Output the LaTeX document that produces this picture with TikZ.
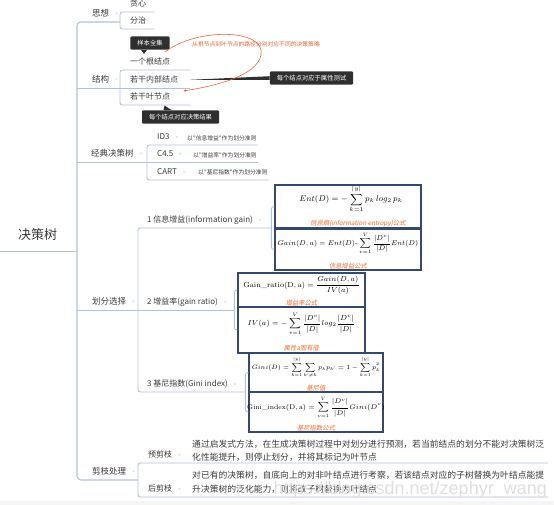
\RequirePackage{fix-cm}
\documentclass[tikz,border=0pt]{standalone}
\usepackage{amsmath}
\usepackage{fontspec}
\newfontfamily\cjk{Noto Sans CJK SC}
\newfontfamily\cjkslant{Noto Sans CJK SC}[FakeSlant=0.18]
\newfontfamily\wmfont{Liberation Sans}
\usetikzlibrary{arrows.meta,positioning}
\definecolor{linecol}{HTML}{B3C2D6}
\definecolor{boxcol}{HTML}{34496E}
\definecolor{capcol}{HTML}{F26A2C}
\definecolor{callbg}{HTML}{2F2F2F}
\definecolor{notecol}{HTML}{E2683E}
\definecolor{inkcol}{HTML}{3A3A3A}

\begin{document}
\begin{tikzpicture}[x=1pt,y=-1pt,>=Latex,
  lvlone/.style={font=\cjk\fontsize{8.5}{10}\selectfont,text=inkcol,anchor=south west,inner xsep=2pt,inner ysep=0pt,text depth=5.5pt},
  lvltwo/.style={font=\cjk\fontsize{8}{10}\selectfont,text=inkcol,anchor=south west,inner xsep=2pt,inner ysep=0pt,text depth=5pt},
  note/.style={font=\cjk\fontsize{5.8}{7}\selectfont,text=inkcol,anchor=west,inner sep=1pt},
  uline/.style={draw=linecol,line width=0.9pt},
  brace/.style={uline,rounded corners=2.5pt},
  knob/.style={circle,fill=linecol!45,inner sep=0pt,minimum size=2.6pt},
  tip/.style={fill=callbg,text=white,rounded corners=1.2pt,font=\cjk\fontsize{6.3}{7}\selectfont,inner xsep=7pt,inner ysep=3.8pt},
  fbox/.style={draw=boxcol,line width=1.2pt,fill=white,inner sep=0pt},
  fml/.style={font=\fontsize{#1}{#1}\selectfont,inner sep=0pt},
  capt/.style={text=capcol,font=\cjkslant\fontsize{6.3}{7}\selectfont,inner sep=0pt,anchor=south},
  desc/.style={font=\cjk\fontsize{8.8}{13.5}\selectfont,text=inkcol,align=left,inner sep=0pt,anchor=west}
]
\useasboundingbox (0,0) rectangle (554,505);
\fill[black!4] (0,501) rectangle (554,505);
% root and main branches
\node[lvlone,font=\cjk\fontsize{13}{15}\selectfont,text depth=11pt] (root) at (16,251) {决策树};
\coordinate (edge) at (0,251);
\coordinate (trunk) at (77,250);
\node[lvlone] (sx) at (90,22) {思想};
\node[lvlone] (jg) at (90,88) {结构};
\node[lvlone] (jd) at (89,162) {经典决策树};
\node[lvlone] (hf) at (90,310) {划分选择};
\node[lvlone] (jz) at (90,480) {剪枝处理};
\coordinate (sxb) at (120,20);
\coordinate (jgb) at (120,88);
\coordinate (jdb) at (147,162);
\coordinate (hfb) at (138,310);
\coordinate (jzb) at (138,480);
\coordinate (rgt) at (548,480);
% second level
\node[lvltwo,text width=22pt] (tx) at (128,12) {贪心};
\node[lvltwo,text width=22pt] (fz) at (128,29) {分治};
\node[lvltwo,text width=58pt] (gz) at (128,70) {一个根结点};
\node[lvltwo,text width=58pt] (nb) at (128,88) {若干内部结点};
\node[lvltwo,text width=58pt] (yz) at (128,105) {若干叶节点};
\node[lvltwo] (id3) at (155,145) {ID3};
\node[lvltwo] (c45) at (155,162) {C4.5};
\node[lvltwo] (cart) at (155,180) {CART};
\node[note] (id3n) at (186,138) {以"信息增益"作为划分准则};
\node[note] (c45n) at (192,155) {以"增益率"作为划分准则};
\node[note] (cartn) at (197,172.5) {以"基尼指数"作为划分准则};
\node[lvltwo] (hone) at (145,228) {1 信息增益(information gain)};
\node[lvltwo] (htwo) at (145,310) {2 增益率(gain ratio)};
\node[lvltwo] (hthree) at (145,392) {3 基尼指数(Gini index)};
\node[lvltwo] (yj) at (146,463) {预剪枝};
\node[lvltwo] (hj) at (146,497) {后剪枝};
% formula boxes
\node[fbox,minimum width=146pt,minimum height=43pt] (fa) at (348,206.5) {};
\node[fbox,minimum width=146pt,minimum height=41pt] (fb) at (348,249.5) {};
\node[fbox,minimum width=127pt,minimum height=34pt] (fc) at (301.5,290) {};
\node[fbox,minimum width=127pt,minimum height=46pt] (fd) at (301.5,330) {};
\node[fbox,minimum width=134pt,minimum height=39pt] (fe) at (316,372.5) {};
\node[fbox,minimum width=134pt,minimum height=40pt] (ff) at (316,412) {};
\node[fml=8.3] (fat) at ([xshift=3pt,yshift=7.5pt]fa.center) {$\displaystyle Ent(D)=-\sum_{k=1}^{|y|}p_k\,log_2\,p_k$};
\node[fml=7] (fbt) at ([yshift=6pt]fb.center) {$\displaystyle Gain(D,a)=Ent(D)\text{-}\sum_{v=1}^{V}\frac{|D^v|}{|D|}Ent(D)$};
\node[fml=7.3] (fct) at ([yshift=4.5pt]fc.center) {$\mathrm{Gain\_ratio(D,a)}=\dfrac{Gain(D,a)}{IV(a)}$};
\node[fml=7.3] (fdt) at ([yshift=6.5pt]fd.center) {$\displaystyle IV(a)=-\sum_{v=1}^{V}\frac{|D^v|}{|D|}log_2\frac{|D^v|}{|D|}$};
\node[fml=6.3] (fet) at ([yshift=5pt]fe.center) {$\displaystyle Gini(D)=\sum_{k=1}^{|y|}\sum_{k'\neq k}p_kp_{k'}=1-\sum_{k=1}^{|y|}p_k^2$};
\node[fml=6.8] (fft) at ([yshift=4.5pt]ff.center) {$\displaystyle \mathrm{Gini\_index(D,a)}=\sum_{v=1}^{V}\frac{|D^v|}{|D|}Gini(D^v)$};
\node[capt] (fac) at ([xshift=10pt,yshift=1.5pt]fa.south) {信息熵(information entropy)公式};
\node[capt] (fbc) at ([yshift=1.5pt]fb.south) {信息增益公式};
\node[capt] (fcc) at ([yshift=1.5pt]fc.south) {增益率公式};
\node[capt] (fdc) at ([yshift=2.5pt]fd.south) {属性a固有值};
\node[capt] (fec) at ([yshift=1pt]fe.south) {基尼值};
\node[capt] (ffc) at ([yshift=1.5pt]ff.south) {基尼指数公式};
\coordinate (ga) at ([xshift=-3pt]fa.west);
\coordinate (gb) at ([xshift=-3pt]fc.west);
\coordinate (gc) at ([xshift=-3pt]fe.west);
\draw[brace] (fa.west) -- (ga) |- (fb.west);
\draw[brace] (fc.west) -- (gb) |- (fd.west);
\draw[brace] (fe.west) -- (gc) |- (ff.west);
% pruning texts
\node[desc] (yjd) at (192,450.5) {通过启发式方法，在生成决策树过程中对划分进行预测，若当前结点的划分不能对决策树泛\\化性能提升，则停止划分，并将其标记为叶节点};
\node[desc] (hjd) at (192,482) {对已有的决策树，自底向上的对非叶结点进行考察，若该结点对应的子树替换为叶结点能提\\升决策树的泛化能力，则将改子树替换为叶结点};
% connectors
\draw[uline,line width=1.1pt,rounded corners=4pt] (sxb |- sx.south) -| (trunk) |- (jzb |- jz.south);
\draw[uline] (edge) -- (trunk |- root.south);
\foreach \n/\b in {jg/jgb,jd/jdb,hf/hfb} \draw[uline] (trunk |- \n.south) -- (\b |- \n.south);
\draw[brace] (tx.south east) -| (sxb) |- (fz.south east);
\draw[brace] (gz.south east) -| (jgb) |- (yz.south east);
\draw[uline] (jgb) -- (nb.south east);
\draw[brace] (id3n.east |- id3.south) -| (jdb) |- (cartn.east |- cart.south);
\draw[uline] (jdb) -- (c45n.east |- c45.south);
\draw[brace] (ga |- hone.south) -| (hfb) |- (gc |- hthree.south);
\draw[uline] (hfb) -- (gb |- htwo.south);
\draw[brace] (rgt |- yj.south) -| (jzb) |- (rgt |- hj.south);
\foreach \n in {sx,jg,jd,hf,jz,id3,c45,cart,hone,htwo,hthree,yj,hj}
  \node[knob] (k\n) at ([shift={(5pt,3pt)}]\n.base east) {};
% callouts
\node[tip] (cs) at (150,43) {样本全集};
\fill[callbg] ([xshift=-9pt]cs.south) -- ([xshift=-3pt]cs.south) -- ([shift={(-6pt,-4pt)}]cs.south) -- cycle;
\node[tip] (ca) at (311.5,78) {每个结点对应于属性测试};
\fill[callbg] ([yshift=3pt]nb.base east) -- ([yshift=1.8pt]ca.west) -- ([yshift=-1.8pt]ca.west) -- cycle;
\node[tip] (cr) at (180.5,117) {每个结点对应决策结果};
\fill[callbg] ([xshift=-17pt]cr.north) -- ([xshift=-9pt]cr.north) -- ([shift={(-16pt,4.5pt)}]cr.north) -- cycle;
% orange remark
\node[note,text=notecol] (lujing) at (191,44.5) {从根节点到叶节点的路径分别对应不同的决策策略};
\coordinate (rootp) at (165,52);
\coordinate (leafp) at (183,91);
\draw[notecol,line width=0.6pt,-{Latex[length=3pt,width=2.6pt]}] (rootp) .. controls (195,28) and (266,28) .. (261,55) .. controls (257,76) and (215,86) .. (leafp);
% watermark
\node[font=\wmfont\fontsize{18}{20}\selectfont,text=black!13,anchor=base east,inner sep=0pt] (wm) at (547,494) {https://blog.csdn.net/zephyr\_wang};
\end{tikzpicture}
\end{document}
